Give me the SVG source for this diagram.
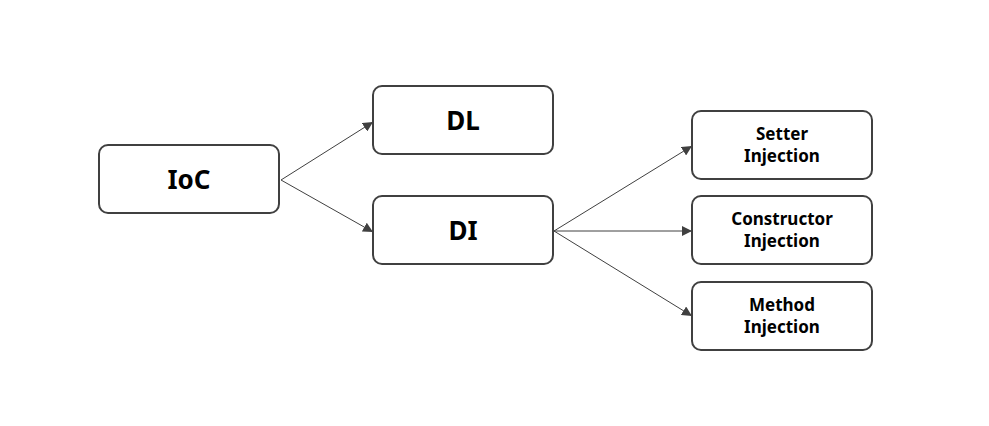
<svg xmlns="http://www.w3.org/2000/svg" width="989" height="426" viewBox="0 0 989 426">
  <style>
    .box { fill: #ffffff; stroke: #404040; stroke-width: 2; }
    .big { font-family: "Noto Sans", "Open Sans", "Liberation Sans", sans-serif; font-weight: bold; font-size: 26px; fill: #000; text-anchor: middle; }
    .small { font-family: "Noto Sans", "Open Sans", "Liberation Sans", sans-serif; font-weight: bold; font-size: 17px; fill: #000; text-anchor: middle; }
    .edge { stroke: #404040; stroke-width: 1; fill: none; marker-end: url(#arrow); }
  </style>
  <defs>
    <marker id="arrow" viewBox="0 0 10 10" refX="10" refY="5" markerWidth="10" markerHeight="10" markerUnits="userSpaceOnUse" orient="auto">
      <path d="M0,0 L10,5 L0,10 z" fill="#404040"/>
    </marker>
  </defs>
  <rect width="989" height="426" fill="#ffffff"/>

  <g id="connectors">
    <line class="edge" x1="281" y1="180" x2="373" y2="122"/>
    <line class="edge" x1="281" y1="180" x2="373" y2="232"/>
    <line class="edge" x1="554" y1="231" x2="692" y2="146"/>
    <line class="edge" x1="554" y1="231" x2="692" y2="231"/>
    <line class="edge" x1="554" y1="231" x2="692" y2="316"/>
  </g>

  <g id="ioc">
    <rect class="box" x="99" y="145" width="180" height="68" rx="9"/>
    <text class="big" x="189" y="189">IoC</text>
  </g>
  <g id="dl">
    <rect class="box" x="373" y="86" width="180" height="68" rx="9"/>
    <text class="big" x="463" y="130">DL</text>
  </g>
  <g id="di">
    <rect class="box" x="373" y="196" width="180" height="68" rx="9"/>
    <text class="big" x="463" y="240">DI</text>
  </g>
  <g id="setter">
    <rect class="box" x="692" y="111" width="180" height="68" rx="9"/>
    <text class="small" x="782" y="140">Setter</text>
    <text class="small" x="782" y="162">Injection</text>
  </g>
  <g id="constructor">
    <rect class="box" x="692" y="196" width="180" height="68" rx="9"/>
    <text class="small" x="782" y="225">Constructor</text>
    <text class="small" x="782" y="247">Injection</text>
  </g>
  <g id="method">
    <rect class="box" x="692" y="282" width="180" height="68" rx="9"/>
    <text class="small" x="782" y="311">Method</text>
    <text class="small" x="782" y="333">Injection</text>
  </g>
</svg>
